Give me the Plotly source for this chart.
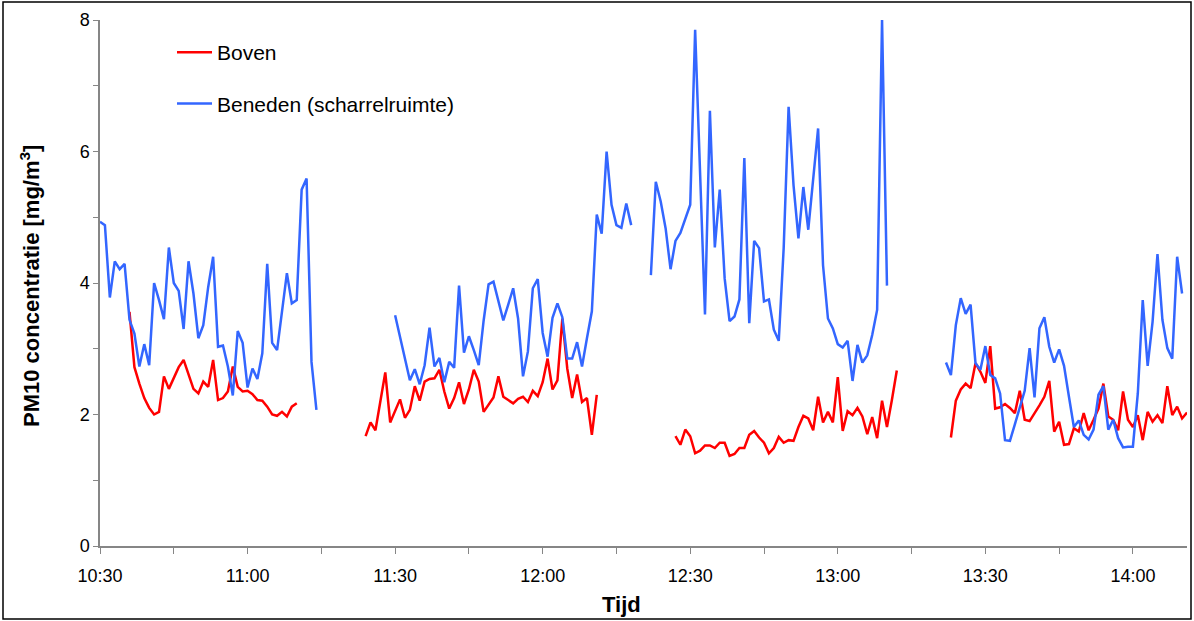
import plotly.graph_objects as go
from datetime import datetime, timedelta

T0 = datetime(2024, 1, 1, 10, 30)

# start minute (after 10:30) of each measuring segment and the readings (mg/m3)
boven_starts = [6, 54, 117, 173]
boven_1 = [3.56, 2.72, 2.47, 2.25, 2.10, 2.00, 2.04, 2.58, 2.39, 2.56, 2.72, 2.83, 2.60, 2.39,
           2.32, 2.50, 2.42, 2.83, 2.22, 2.25, 2.35, 2.73, 2.42, 2.35, 2.36, 2.31, 2.22, 2.21,
           2.12, 2.00, 1.98, 2.04, 1.97, 2.12, 2.17]
boven_2 = [1.67, 1.88, 1.76, 2.22, 2.64, 1.88, 2.07, 2.23, 1.95, 2.07, 2.43, 2.21, 2.50, 2.54,
           2.55, 2.68, 2.35, 2.09, 2.25, 2.49, 2.16, 2.38, 2.68, 2.50, 2.04, 2.16, 2.26, 2.58,
           2.27, 2.22, 2.17, 2.24, 2.27, 2.19, 2.36, 2.28, 2.49, 2.85, 2.38, 2.52, 3.46, 2.70,
           2.25, 2.61, 2.19, 2.25, 1.69, 2.30]
boven_3 = [1.67, 1.54, 1.77, 1.67, 1.41, 1.45, 1.53, 1.53, 1.49, 1.57, 1.57, 1.37, 1.40, 1.49,
           1.49, 1.69, 1.75, 1.65, 1.57, 1.41, 1.49, 1.66, 1.57, 1.61, 1.60, 1.81, 1.98, 1.94,
           1.76, 2.27, 1.88, 2.04, 1.88, 2.57, 1.75, 2.05, 1.99, 2.10, 1.97, 1.70, 1.96, 1.64,
           2.21, 1.81, 2.22, 2.67]
boven_4 = [1.65, 2.21, 2.38, 2.47, 2.40, 2.78, 2.65, 2.48, 3.04, 2.09, 2.11, 2.16, 2.10, 2.02,
           2.36, 1.92, 1.90, 2.01, 2.14, 2.27, 2.51, 1.74, 1.89, 1.54, 1.55, 1.79, 1.74, 2.02,
           1.76, 1.92, 2.09, 2.47, 1.97, 1.92, 1.76, 2.35, 1.92, 1.81, 1.99, 1.61, 2.04, 1.89,
           1.99, 1.87, 2.43, 1.99, 2.12, 1.94, 2.03]

beneden_starts = [0, 60, 112, 172]
beneden_1 = [4.93, 4.88, 3.78, 4.33, 4.21, 4.29, 3.44, 3.23, 2.73, 3.07, 2.75, 4.00, 3.74, 3.45,
             4.54, 4.00, 3.88, 3.30, 4.33, 3.84, 3.16, 3.36, 3.94, 4.40, 3.03, 3.05, 2.73, 2.29,
             3.27, 3.09, 2.41, 2.70, 2.54, 2.93, 4.29, 3.09, 2.98, 3.54, 4.15, 3.69, 3.74, 5.42,
             5.59, 2.80, 2.07]
beneden_2 = [3.51, 3.18, 2.83, 2.52, 2.69, 2.46, 2.75, 3.32, 2.73, 2.86, 2.49, 2.80, 2.71, 3.96,
             2.94, 3.19, 2.98, 2.75, 3.43, 3.98, 4.02, 3.74, 3.43, 3.67, 3.92, 3.46, 2.58, 2.96,
             3.92, 4.06, 3.24, 2.88, 3.47, 3.69, 3.48, 2.85, 2.85, 3.10, 2.73, 3.16, 3.57, 5.04,
             4.75, 6.00, 5.19, 4.88, 4.84, 5.21, 4.88]
beneden_3 = [4.12, 5.54, 5.24, 4.83, 4.21, 4.64, 4.76, 4.99, 5.19, 7.85, 5.69, 3.52, 6.62, 4.54,
             5.42, 4.07, 3.42, 3.49, 3.75, 5.90, 3.39, 4.64, 4.53, 3.72, 3.75, 3.29, 3.12, 4.53,
             6.68, 5.49, 4.68, 5.46, 4.81, 5.64, 6.35, 4.27, 3.46, 3.31, 3.07, 3.02, 3.12, 2.51,
             3.06, 2.79, 2.90, 3.21, 3.59, 8.00, 3.96]
beneden_4 = [2.79, 2.60, 3.36, 3.77, 3.53, 3.67, 2.78, 2.68, 3.04, 2.60, 2.55, 2.32, 1.61, 1.60,
             1.85, 2.09, 2.36, 3.01, 2.26, 3.31, 3.48, 3.03, 2.79, 2.99, 2.74, 2.27, 1.81, 1.91,
             1.69, 1.62, 1.77, 2.30, 2.43, 1.77, 1.92, 1.64, 1.50, 1.51, 1.51, 2.32, 3.74, 2.74,
             3.41, 4.44, 3.44, 3.01, 2.85, 4.40, 3.84]

AXIS_END_MIN = 221


def build(starts, segments):
    xs, ys = [], []
    for start, vals in zip(starts, segments):
        if xs:
            xs.append(None)
            ys.append(None)
        for i, v in enumerate(vals):
            xs.append(T0 + timedelta(minutes=start + i))
            ys.append(v)
    return xs, ys


bx, by = build(boven_starts, [boven_1, boven_2, boven_3, boven_4])
nx, ny = build(beneden_starts, [beneden_1, beneden_2, beneden_3, beneden_4])

FONT = "Liberation Sans, Arial, sans-serif"
GRAY = "#868686"

fig = go.Figure()
fig.add_trace(go.Scatter(x=bx, y=by, mode="lines", name="Boven", legendgroup="a",
                         line=dict(color="#FF0000", width=2.5), connectgaps=False))
fig.add_trace(go.Scatter(x=nx, y=ny, mode="lines", name="Beneden (scharrelruimte)", legendgroup="b",
                         line=dict(color="#3366FF", width=2.5), connectgaps=False))

W, H = 1194, 621
ML, MR, MT, MB = 100, 7, 20, 75
pw, ph = W - ML - MR, H - MT - MB


def px(xp):
    return (xp - ML) / pw


def py(yp):
    return (H - MB - yp) / ph


fig.update_layout(
    width=W, height=H,
    margin=dict(l=ML, r=MR, t=MT, b=MB),
    paper_bgcolor="white", plot_bgcolor="white",
    font=dict(family=FONT, size=18, color="black"),
    showlegend=True,
    legend=dict(x=px(172), y=py(32), xanchor="left", yanchor="top",
                bgcolor="rgba(0,0,0,0)", font=dict(size=21),
                traceorder="grouped", tracegroupgap=21, itemwidth=35),
    xaxis=dict(
        type="date",
        range=[T0, T0 + timedelta(minutes=AXIS_END_MIN)],
        tick0=T0, dtick=30 * 60 * 1000, tickformat="%H:%M",
        ticks="outside", ticklen=6, tickcolor=GRAY, tickwidth=1,
        minor=dict(dtick=15 * 60 * 1000, tick0=T0, ticks="outside", ticklen=6,
                   tickcolor=GRAY, tickwidth=1, showgrid=False),
        showline=True, linecolor=GRAY, linewidth=1.5,
        showgrid=False, zeroline=False, ticklabelstandoff=7,
        tickfont=dict(size=18),
    ),
    yaxis=dict(
        range=[0, 8], tick0=0, dtick=2,
        ticks="outside", ticklen=5, tickcolor=GRAY, tickwidth=1,
        minor=dict(dtick=1, ticks="outside", ticklen=5, tickcolor=GRAY, tickwidth=1, showgrid=False),
        showline=True, linecolor=GRAY, linewidth=1.5,
        showgrid=False, zeroline=False,
        tickfont=dict(size=18),
    ),
    annotations=[
        dict(text="<b>Tijd</b>", xref="paper", yref="paper", x=px(621), y=py(604),
             xanchor="center", yanchor="middle", showarrow=False, font=dict(size=22)),
        dict(text="<b>PM10 concentratie [mg/m<sup>3</sup>]</b>", xref="paper", yref="paper",
             x=px(30), y=py(286), textangle=-90, xanchor="center", yanchor="middle",
             showarrow=False, font=dict(size=22)),
    ],
    shapes=[
        dict(type="rect", xref="paper", yref="paper", x0=px(3), x1=px(1191), y0=py(619), y1=py(2),
             line=dict(color="black", width=1.5), fillcolor="rgba(0,0,0,0)", layer="below"),
    ],
)

fig.write_html("out.html")
